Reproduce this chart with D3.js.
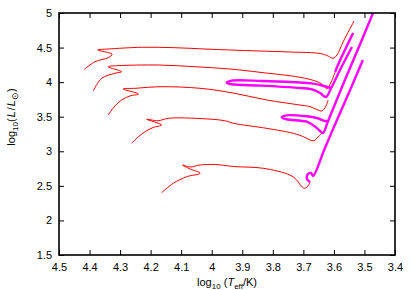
<!DOCTYPE html>
<html>
<head>
<meta charset="utf-8">
<script src="https://cdn.jsdelivr.net/npm/d3@7"></script>
<style>
  body { margin: 0; background: #fff; }
  svg { font-family: "Liberation Sans", Arial, sans-serif; }
</style>
</head>
<body>
<div id="canvas"></div>
<script>
// axis ticks
var xTicks = [4.5, 4.4, 4.3, 4.2, 4.1, 4, 3.9, 3.8, 3.7, 3.6, 3.5, 3.4];
var yTicks = [1.5, 2, 2.5, 3, 3.5, 4, 4.5, 5];

// evolutionary tracks [log Teff, log L] (red, thin)
var track1 = [[4.417,4.186],[4.382,4.296],[4.339,4.354],[4.326,4.403],[4.373,4.465],[4.339,4.479],[4.229,4.504],[4.120,4.498],[4.022,4.479],[3.940,4.465],[3.842,4.450],[3.744,4.436],[3.645,4.414],[3.619,4.378],[3.603,4.345],[3.590,4.393],[3.570,4.581],[3.534,4.884]];
var track2 = [[4.388,3.872],[4.360,4.056],[4.317,4.128],[4.295,4.151],[4.339,4.223],[4.307,4.238],[4.176,4.248],[4.055,4.223],[3.940,4.190],[3.842,4.142],[3.711,4.070],[3.652,4.002],[3.632,3.944],[3.623,3.901],[3.609,4.002],[3.596,4.147]];
var track3 = [[4.339,3.525],[4.317,3.655],[4.295,3.742],[4.268,3.800],[4.240,3.829],[4.290,3.901],[4.251,3.911],[4.164,3.934],[4.038,3.911],[3.930,3.843],[3.820,3.742],[3.711,3.669],[3.678,3.645],[3.652,3.597],[3.639,3.583],[3.626,3.655],[3.619,3.742]];
var track4 = [[4.262,3.116],[4.241,3.207],[4.218,3.283],[4.192,3.344],[4.164,3.380],[4.213,3.463],[4.176,3.442],[4.142,3.477],[4.055,3.477],[3.957,3.442],[3.929,3.405],[3.820,3.332],[3.733,3.260],[3.700,3.211],[3.678,3.163],[3.665,3.153],[3.652,3.207],[3.639,3.264]];
var track5 = [[4.164,2.401],[4.126,2.537],[4.082,2.632],[4.038,2.682],[4.071,2.744],[4.096,2.802],[4.071,2.773],[4.038,2.802],[3.989,2.809],[3.929,2.780],[3.831,2.754],[3.744,2.657],[3.722,2.585],[3.705,2.488],[3.695,2.465],[3.685,2.498],[3.678,2.556]];

// helium burning parts (magenta, thick)
var heA = [[3.596,4.147],[3.587,4.248],[3.564,4.465],[3.537,4.711]];
var heB = [[3.609,3.915],[3.645,3.959],[3.673,3.983],[3.727,3.998],[3.836,4.017],[3.935,4.021],[3.951,3.992],[3.935,3.969],[3.836,3.949],[3.727,3.920],[3.673,3.897],[3.645,3.843],[3.626,3.785],[3.609,3.915],[3.580,4.176],[3.541,4.508]];
var heC = [[3.619,3.438],[3.629,3.438],[3.656,3.481],[3.689,3.506],[3.755,3.520],[3.771,3.492],[3.755,3.463],[3.689,3.428],[3.662,3.359],[3.645,3.293],[3.636,3.264],[3.619,3.438],[3.564,4.031],[3.514,4.552],[3.472,5.0]];
var heD = [[3.678,2.556],[3.688,2.599],[3.685,2.672],[3.675,2.686],[3.668,2.643],[3.632,3.019],[3.590,3.453],[3.547,3.886],[3.505,4.320]];

var redTracks = [track1, track2, track3, track4, track5];
var heTracks = [heA, heB, heC, heD];

var width = 415, height = 290;
var plotL = 59, plotR = 395, plotT = 13, plotB = 255;

var svg = d3.select('#canvas').append('svg')
  .attr('width', width)
  .attr('height', height);

var x = d3.scaleLinear().domain([4.5, 3.4]).range([plotL, plotR]);
var y = d3.scaleLinear().domain([1.5, 5]).range([plotB, plotT]);

var line = d3.line()
  .x(function (d) { return x(d[0]); })
  .y(function (d) { return y(d[1]); })
  .curve(d3.curveCatmullRom.alpha(0.5));

svg.append('defs').append('clipPath').attr('id', 'plot')
  .append('rect')
  .attr('x', plotL).attr('y', plotT)
  .attr('width', plotR - plotL).attr('height', plotB - plotT);

var g = svg.append('g').attr('clip-path', 'url(#plot)');

g.selectAll('path.red').data(redTracks)
  .enter().append('path')
  .attr('class', 'red')
  .attr('d', line)
  .attr('fill', 'none')
  .attr('stroke', '#ff0000')
  .attr('stroke-width', 1);

g.selectAll('path.he').data(heTracks)
  .enter().append('path')
  .attr('class', 'he')
  .attr('d', line)
  .attr('fill', 'none')
  .attr('stroke', '#ff00ff')
  .attr('stroke-width', 2.4)
  .attr('stroke-linejoin', 'round');

var fmt = function (d) { return String(d); };

var drawAxis = function (axis, tx, ty) {
  var a = svg.append('g')
    .attr('transform', 'translate(' + tx + ',' + ty + ')')
    .call(axis);
  a.select('.domain').remove();
  a.selectAll('line').attr('stroke', '#000');
  a.selectAll('text').attr('fill', '#000').style('font-size', '11px');
  return a;
};

drawAxis(d3.axisBottom(x).tickValues(xTicks).tickFormat(fmt)
  .tickSizeInner(-5).tickSizeOuter(0).tickPadding(8), 0, plotB);
drawAxis(d3.axisTop(x).tickValues(xTicks).tickFormat('')
  .tickSizeInner(-5).tickSizeOuter(0), 0, plotT);
drawAxis(d3.axisLeft(y).tickValues(yTicks).tickFormat(fmt)
  .tickSizeInner(-5).tickSizeOuter(0).tickPadding(7), plotL, 0);
drawAxis(d3.axisRight(y).tickValues(yTicks).tickFormat('')
  .tickSizeInner(-5).tickSizeOuter(0), plotR, 0);

svg.append('rect')
  .attr('x', plotL).attr('y', plotT)
  .attr('width', plotR - plotL).attr('height', plotB - plotT)
  .attr('fill', 'none')
  .attr('stroke', '#000')
  .attr('stroke-width', 1.6);

// axis titles
var xt = svg.append('text')
  .attr('x', (plotL + plotR) / 2).attr('y', 286)
  .attr('text-anchor', 'middle')
  .style('font-size', '11px');
xt.append('tspan').text('log');
xt.append('tspan').attr('dy', 3).style('font-size', '8px').text('10');
xt.append('tspan').attr('dy', -3).text(' (');
xt.append('tspan').style('font-style', 'italic').text('T');
xt.append('tspan').attr('dy', 3).style('font-size', '8px').text('eff');
xt.append('tspan').attr('dy', -3).text('/K)');

var yt = svg.append('text')
  .attr('transform', 'translate(15,117) rotate(-90)')
  .attr('text-anchor', 'middle')
  .style('font-size', '11px');
yt.append('tspan').text('log');
yt.append('tspan').attr('dy', 3).style('font-size', '8px').text('10');
yt.append('tspan').attr('dy', -3).text('(');
yt.append('tspan').attr('dx', 1).style('font-style', 'italic').text('L');
yt.append('tspan').attr('dx', 1).text('/');
yt.append('tspan').attr('dx', 1).style('font-style', 'italic').text('L');
yt.append('tspan').attr('dy', 3).style('font-size', '9px').text('\u2299');
yt.append('tspan').attr('dy', -3).text(')');
</script>
</body>
</html>
